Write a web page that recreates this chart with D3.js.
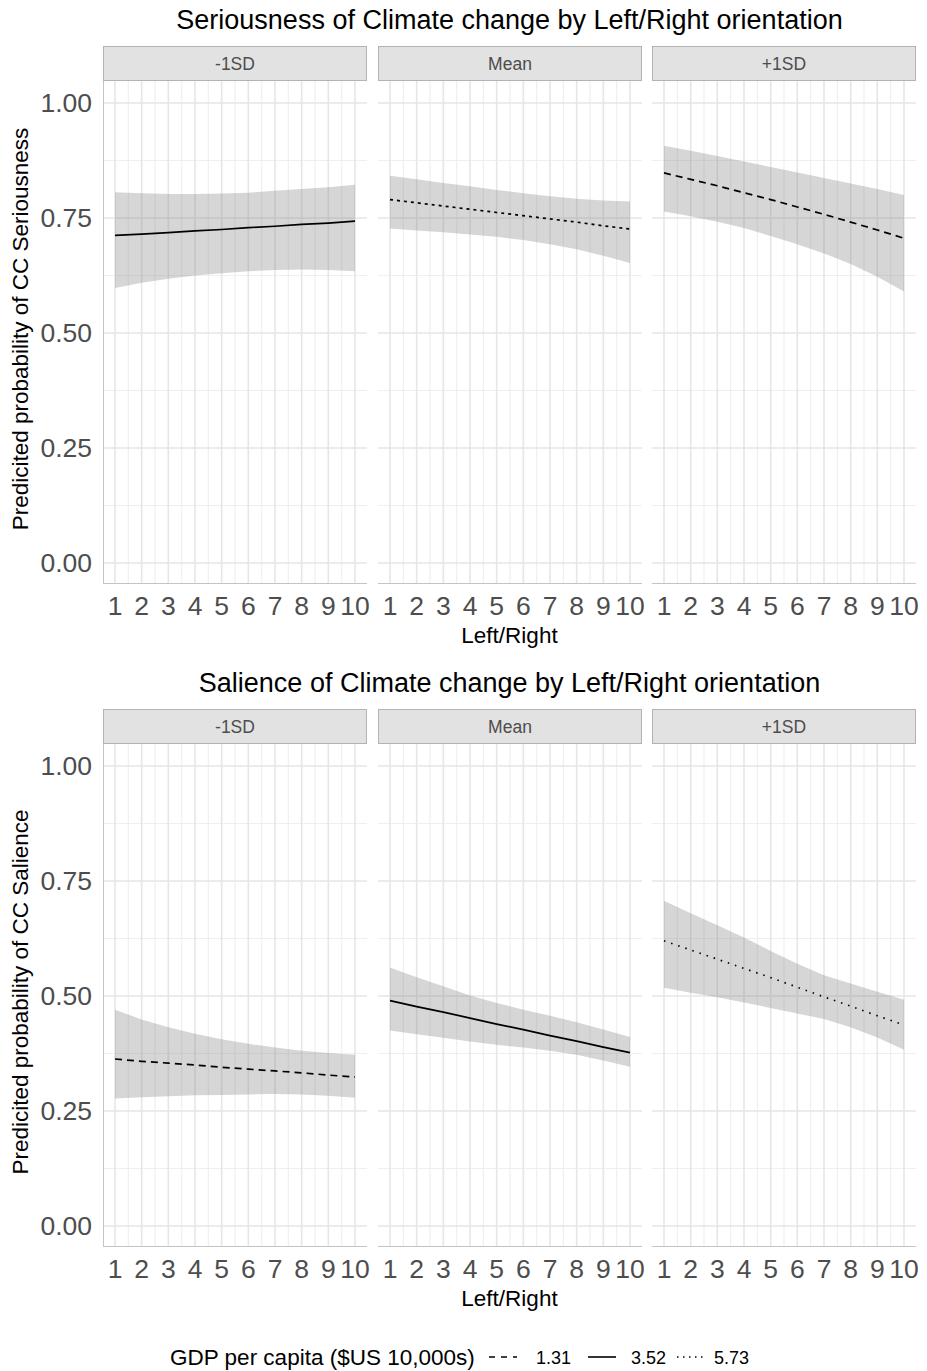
<!DOCTYPE html>
<html><head><meta charset="utf-8">
<script src="https://cdn.jsdelivr.net/npm/d3@7"></script>
<style>body{margin:0;background:#fff}</style>
</head><body>
<svg id="c" width="927" height="1371"></svg>
<script>
// ---- data ----
const xValues = [1,2,3,4,5,6,7,8,9,10];
const panelLabels = ["-1SD","Mean","+1SD"];
const yTicks = [0,0.25,0.5,0.75,1];
const yTickLabels = ["0.00","0.25","0.50","0.75","1.00"];
const legendLabels = ["1.31","3.52","5.73"];
const legendTitle = "GDP per capita ($US 10,000s)";

// Seriousness
const serFit = [
  [0.712,0.715,0.718,0.722,0.725,0.729,0.732,0.736,0.739,0.743],
  [0.790,0.783,0.776,0.769,0.762,0.755,0.748,0.741,0.733,0.726],
  [0.848,0.834,0.820,0.805,0.790,0.774,0.758,0.741,0.724,0.706]
];
const serHigh = [
  [0.806,0.804,0.802,0.802,0.803,0.805,0.809,0.813,0.817,0.822],
  [0.842,0.834,0.826,0.819,0.811,0.804,0.797,0.792,0.788,0.786],
  [0.907,0.896,0.885,0.873,0.861,0.849,0.837,0.825,0.813,0.800]
];
const serLow = [
  [0.598,0.609,0.618,0.625,0.630,0.634,0.637,0.638,0.637,0.634],
  [0.727,0.723,0.719,0.714,0.709,0.702,0.693,0.682,0.668,0.652],
  [0.764,0.754,0.742,0.728,0.711,0.693,0.673,0.650,0.622,0.590]
];
const serLinetype = ["solid","dotted","dashed"];

// Salience
const salFit = [
  [0.363,0.358,0.354,0.350,0.345,0.341,0.337,0.333,0.328,0.324],
  [0.490,0.477,0.465,0.452,0.439,0.427,0.414,0.402,0.389,0.377],
  [0.620,0.600,0.580,0.560,0.540,0.519,0.498,0.478,0.457,0.437]
];
const salHigh = [
  [0.470,0.449,0.432,0.418,0.406,0.396,0.388,0.381,0.376,0.372],
  [0.562,0.541,0.521,0.501,0.485,0.470,0.457,0.443,0.427,0.411],
  [0.707,0.680,0.654,0.627,0.598,0.570,0.545,0.527,0.509,0.492]
];
const salLow = [
  [0.277,0.280,0.282,0.284,0.285,0.286,0.287,0.286,0.283,0.279],
  [0.425,0.417,0.409,0.401,0.394,0.388,0.381,0.372,0.360,0.346],
  [0.518,0.507,0.497,0.486,0.474,0.462,0.450,0.432,0.410,0.383]
];
const salLinetype = ["dashed","solid","dotted"];

// ---- drawing ----
const FONT = "'Liberation Sans', Arial, Helvetica, sans-serif";
const dashes = {solid:null, dashed:"7,5", dotted:"3,4"};
const dashesBottom = {solid:null, dashed:"7,5", dotted:"1.5,6"};
const svg = d3.select("#c");

function drawChart(offsetY, title, yTitle, fit, hi, lo, ltypes, dashMap){
  const g = svg.append("g").attr("transform",`translate(0,${offsetY})`);
  const panelX = [103,378,652], pw = 264;
  const stripTop = 46, stripH = 35, pTop = 81, pBot = 583;
  const y = d3.scaleLinear().domain([-0.0435,1.0478]).range([pBot,pTop]);

  g.append("text").attr("x",509.5).attr("y",29).attr("text-anchor","middle")
    .style("font-family",FONT).style("font-size","27px").attr("fill","#000").text(title);

  panelLabels.forEach((lab,i)=>{
    const x = d3.scaleLinear().domain([0.55,10.45]).range([panelX[i],panelX[i]+pw]);
    const p = g.append("g");
    // strip
    p.append("rect").attr("x",panelX[i]+0.5).attr("y",stripTop+0.5).attr("width",pw-1).attr("height",stripH-1)
      .attr("fill","#e2e2e2").attr("stroke","#b3b3b3").attr("stroke-width",1);
    p.append("text").attr("x",panelX[i]+pw/2).attr("y",stripTop+stripH/2+6).attr("text-anchor","middle")
      .style("font-family",FONT).style("font-size","17.5px").attr("fill","#4d4d4d").text(lab);
    // minor grid
    const minorX = d3.range(1.5,10,1), minorY = [0.125,0.375,0.625,0.875];
    p.selectAll(".mx").data(minorX).enter().append("line")
      .attr("x1",d=>x(d)).attr("x2",d=>x(d)).attr("y1",pTop).attr("y2",pBot)
      .attr("stroke","#efefef").attr("stroke-width",1.2);
    p.selectAll(".my").data(minorY).enter().append("line")
      .attr("x1",panelX[i]).attr("x2",panelX[i]+pw).attr("y1",d=>y(d)).attr("y2",d=>y(d))
      .attr("stroke","#efefef").attr("stroke-width",1.2);
    // major grid
    p.selectAll(".Mx").data(xValues).enter().append("line")
      .attr("x1",d=>x(d)).attr("x2",d=>x(d)).attr("y1",pTop).attr("y2",pBot)
      .attr("stroke","#e6e6e6").attr("stroke-width",1.6);
    p.selectAll(".My").data(yTicks).enter().append("line")
      .attr("x1",panelX[i]).attr("x2",panelX[i]+pw).attr("y1",d=>y(d)).attr("y2",d=>y(d))
      .attr("stroke","#e6e6e6").attr("stroke-width",1.6);
    // ribbon
    const area = d3.area().x((d,k)=>x(xValues[k])).y0((d,k)=>y(lo[i][k])).y1((d,k)=>y(hi[i][k]));
    p.append("path").datum(xValues).attr("d",area).attr("fill","#7f7f7f").attr("fill-opacity",0.32);
    // line
    const line = d3.line().x((d,k)=>x(xValues[k])).y(d=>y(d));
    p.append("path").datum(fit[i]).attr("d",line).attr("fill","none").attr("stroke","#000")
      .attr("stroke-width",1.7).attr("stroke-dasharray",dashMap[ltypes[i]]);
    // axis line bottom
    p.append("line").attr("x1",panelX[i]).attr("x2",panelX[i]+pw).attr("y1",pBot+0.5).attr("y2",pBot+0.5)
      .attr("stroke","#c4c4c4").attr("stroke-width",1);
    if(i===0){
      p.append("line").attr("x1",panelX[i]+0.5).attr("x2",panelX[i]+0.5).attr("y1",pTop).attr("y2",pBot)
        .attr("stroke","#c4c4c4").attr("stroke-width",1);
    }
    // x ticks
    p.selectAll(".xt").data(xValues).enter().append("text")
      .attr("x",d=>x(d)).attr("y",pBot+32).attr("text-anchor","middle")
      .style("font-family",FONT).style("font-size","26.5px").attr("fill","#4d4d4d").text(d=>d);
  });
  // y tick labels
  g.selectAll(".yt").data(yTicks).enter().append("text")
    .attr("x",92).attr("y",d=>y(d)+9.5).attr("text-anchor","end")
    .style("font-family",FONT).style("font-size","26.5px").attr("fill","#4d4d4d").text((d,k)=>yTickLabels[k]);
  // axis titles
  g.append("text").attr("x",509.5).attr("y",643).attr("text-anchor","middle")
    .style("font-family",FONT).style("font-size","22.5px").attr("fill","#000").text("Left/Right");
  g.append("text").attr("transform",`translate(28,${(pTop+pBot)/2 - 3}) rotate(-90)`).attr("text-anchor","middle")
    .style("font-family",FONT).style("font-size","22.5px").attr("fill","#000").text(yTitle);
}

drawChart(0,"Seriousness of Climate change by Left/Right orientation",
  "Predicited probability of CC Seriousness", serFit, serHigh, serLow, serLinetype, dashes);
drawChart(663,"Salience of Climate change by Left/Right orientation",
  "Predicited probability of CC Salience", salFit, salHigh, salLow, salLinetype, dashesBottom);

// legend
const lg = svg.append("g");
const ly = 1357;
lg.append("text").attr("x",170).attr("y",ly+8).style("font-family",FONT).style("font-size","22.5px")
  .attr("fill","#000").text(legendTitle);
const keyTypes = [["dashed","6,6"],["solid",null],["dotted","1.5,4.5"]];
const keyX = [489, 588, 677];
const labX = [536, 631, 714];
legendLabels.forEach((lab,i)=>{
  lg.append("line").attr("x1",keyX[i]).attr("x2",keyX[i]+28).attr("y1",ly).attr("y2",ly)
    .attr("stroke","#000").attr("stroke-width",1.6).attr("stroke-dasharray",keyTypes[i][1]);
  lg.append("text").attr("x",labX[i]).attr("y",ly+6.5).style("font-family",FONT).style("font-size","18px")
    .attr("fill","#000").text(lab);
});
</script>
</body></html>
